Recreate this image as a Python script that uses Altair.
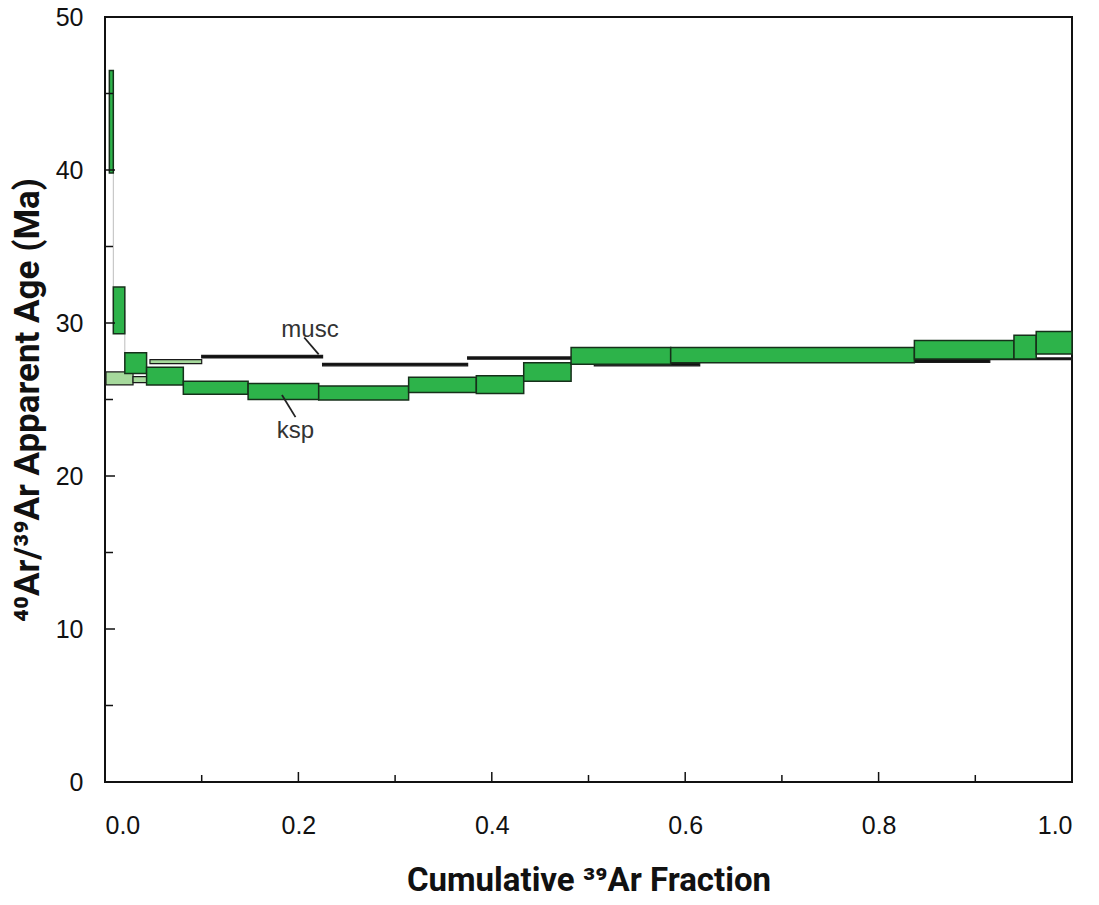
import altair as alt
import pandas as pd

# ---- data ----
# K-feldspar (ksp) age spectrum: step edges (cumulative 39Ar fraction) and age error bounds (Ma)
ksp_x_lo = [0.0045, 0.0086, 0.0205, 0.043, 0.081, 0.148, 0.221, 0.314, 0.384, 0.433, 0.482, 0.585, 0.837, 0.940, 0.963]
ksp_x_hi = [0.0086, 0.0205, 0.043, 0.081, 0.148, 0.221, 0.314, 0.384, 0.433, 0.482, 0.585, 0.837, 0.940, 0.963, 1.000]
ksp_age_lo = [39.8, 29.3, 26.7, 25.95, 25.35, 25.0, 24.97, 25.45, 25.4, 26.2, 27.3, 27.4, 27.65, 27.65, 27.97]
ksp_age_hi = [46.5, 32.35, 28.06, 27.1, 26.2, 26.05, 25.88, 26.45, 26.55, 27.4, 28.4, 28.4, 28.85, 29.2, 29.45]

# Muscovite (musc) age spectrum: first steps drawn light, rest dark
musc_x_lo = [0.001, 0.029, 0.0465, 0.100, 0.225, 0.375, 0.506, 0.615, 0.915]
musc_x_hi = [0.029, 0.044, 0.100, 0.225, 0.375, 0.506, 0.615, 0.915, 1.000]
musc_age_lo = [25.95, 26.1, 27.35, 27.72, 27.2, 27.63, 27.2, 27.43, 27.6]
musc_age_hi = [26.8, 26.5, 27.6, 27.88, 27.36, 27.78, 27.38, 27.6, 27.72]
musc_kind = ["light", "light", "light", "dark", "dark", "dark", "dark", "dark", "dark"]

x_ticks_major = [0.2, 0.4, 0.6, 0.8]
x_ticks_minor = [0.1, 0.3, 0.5, 0.7, 0.9]
x_labels = [0.0, 0.2, 0.4, 0.6, 0.8, 1.0]
y_ticks_major = [10, 20, 30, 40]
y_ticks_minor = [5, 15, 25, 35, 45]
y_labels = [0, 10, 20, 30, 40, 50]

labels_txt = ["musc", "ksp"]
labels_x = [0.212, 0.197]
labels_age = [29.55, 22.95]
leader_x1 = [0.206, 0.183]
leader_age1 = [29.05, 25.3]
leader_x2 = [0.221, 0.197]
leader_age2 = [27.95, 23.85]

# ---- tables ----
ksp = pd.DataFrame({"x": ksp_x_lo, "x2": ksp_x_hi, "y": ksp_age_lo, "y2": ksp_age_hi})
ksp["mid"] = (ksp["y"] + ksp["y2"]) / 2
conn = pd.DataFrame({
    "x": ksp_x_hi[:-1],
    "y": list(ksp["mid"][:-1]),
    "y2": list(ksp["mid"][1:]),
})
musc = pd.DataFrame({"x": musc_x_lo, "x2": musc_x_hi, "y": musc_age_lo, "y2": musc_age_hi, "kind": musc_kind})
xt_major = pd.DataFrame({"x": x_ticks_major})
xt_minor = pd.DataFrame({"x": x_ticks_minor})
yt_major = pd.DataFrame({"y": y_ticks_major})
yt_minor = pd.DataFrame({"y": y_ticks_minor})
lab = pd.DataFrame({"t": labels_txt, "x": labels_x, "y": labels_age})
lead = pd.DataFrame({"x": leader_x1, "y": leader_age1, "x2": leader_x2, "y2": leader_age2})

H = 765
xs = alt.Scale(domain=[0, 1], nice=False, zero=False)
ys = alt.Scale(domain=[0, 50], nice=False, zero=False)

FONT = "Liberation Sans"
TFONT = "Roboto"

x_axis = alt.Axis(
    values=x_labels, format=".1f", ticks=False, domain=False, grid=False,
    labelFont=FONT, labelFontSize=25, labelColor="#111", labelPadding=31,
    title="Cumulative \u00b3\u2079Ar Fraction", titleFont=TFONT, titleFontSize=33,
    titleFontWeight="bold", titleColor="#111", titlePadding=26,
)
y_axis = alt.Axis(
    values=y_labels, format="d", ticks=False, domain=False, grid=False,
    labelFont=FONT, labelFontSize=25, labelColor="#111", labelPadding=22,
    title="\u2074\u2070Ar/\u00b3\u2079Ar Apparent Age (Ma)", titleFont=TFONT, titleFontSize=35,
    titleFontWeight="bold", titleColor="#111", titlePadding=10,
)

base_axes = alt.Chart(ksp).mark_rect(opacity=0).encode(
    x=alt.X("x:Q", scale=xs, axis=x_axis),
    y=alt.Y("y:Q", scale=ys, axis=y_axis),
)

connectors = alt.Chart(conn).mark_rule(color="#bdbdbd", strokeWidth=1).encode(
    x=alt.X("x:Q", scale=xs), y=alt.Y("y:Q", scale=ys), y2="y2:Q"
)

musc_rects = alt.Chart(musc).mark_rect(stroke="#1a1a1a", strokeWidth=1.2).encode(
    x=alt.X("x:Q", scale=xs), x2="x2:Q",
    y=alt.Y("y:Q", scale=ys), y2="y2:Q",
    color=alt.Color("kind:N", scale=alt.Scale(domain=["light", "dark"], range=["#a6d99c", "#111111"]), legend=None),
)

ksp_rects = alt.Chart(ksp).mark_rect(color="#2db34a", stroke="#16301a", strokeWidth=1.5).encode(
    x=alt.X("x:Q", scale=xs), x2="x2:Q",
    y=alt.Y("y:Q", scale=ys), y2="y2:Q",
)

xticks_major = alt.Chart(xt_major).mark_rule(color="#111", strokeWidth=1.5).encode(
    x=alt.X("x:Q", scale=xs), y=alt.value(H), y2=alt.value(H - 10),
)
xticks_minor = alt.Chart(xt_minor).mark_rule(color="#111", strokeWidth=1.5).encode(
    x=alt.X("x:Q", scale=xs), y=alt.value(H), y2=alt.value(H - 7),
)
yticks_major = alt.Chart(yt_major).mark_rule(color="#111", strokeWidth=1.5).encode(
    y=alt.Y("y:Q", scale=ys), x=alt.value(0), x2=alt.value(10)
)
yticks_minor = alt.Chart(yt_minor).mark_rule(color="#111", strokeWidth=1.5).encode(
    y=alt.Y("y:Q", scale=ys), x=alt.value(0), x2=alt.value(8)
)

leaders = alt.Chart(lead).mark_rule(color="#222", strokeWidth=1.8).encode(
    x=alt.X("x:Q", scale=xs), x2="x2:Q", y=alt.Y("y:Q", scale=ys), y2="y2:Q"
)
texts = alt.Chart(lab).mark_text(font=FONT, fontSize=24, color="#333", align="center", baseline="middle").encode(
    x=alt.X("x:Q", scale=xs), y=alt.Y("y:Q", scale=ys), text="t:N"
)

chart = alt.layer(
    base_axes, connectors, musc_rects, ksp_rects,
    xticks_major, xticks_minor, yticks_major, yticks_minor, leaders, texts
).properties(
    width=967, height=H,
    padding={"left": 105, "top": 17, "right": 27, "bottom": 123},
    autosize="none",
    background="white",
).configure_view(stroke="#111", strokeWidth=2)

chart.save("out.html", embed_options={"renderer": "svg", "actions": False})
